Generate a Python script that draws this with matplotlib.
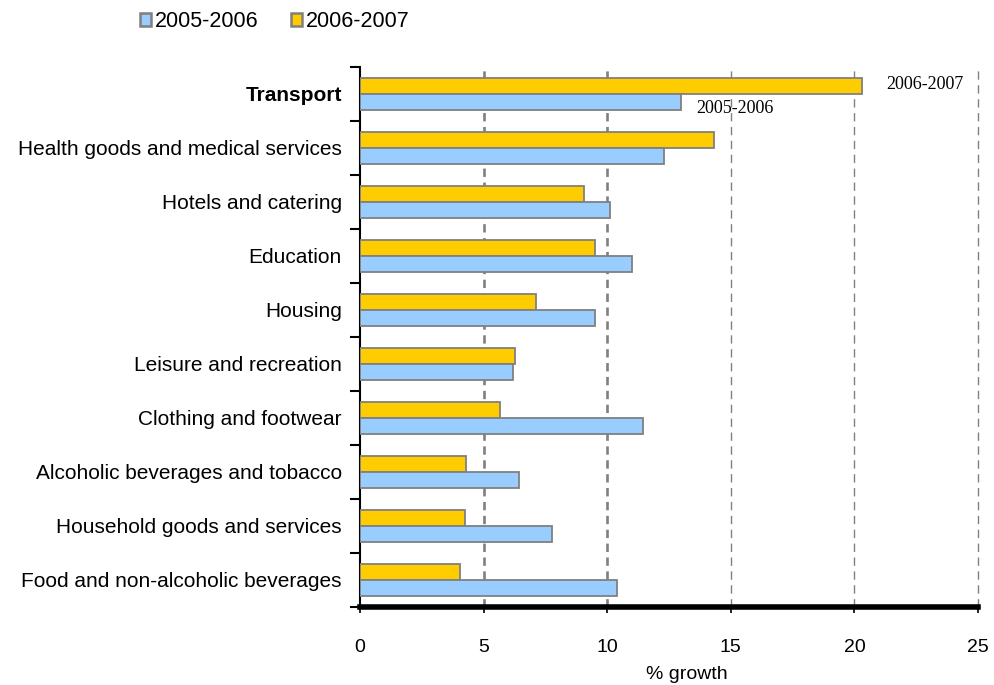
import matplotlib
matplotlib.use("Agg")
import matplotlib.pyplot as plt
from matplotlib.patches import Patch
import numpy as np

# categories, top to bottom
categories = [
    "Transport",
    "Health goods and medical services",
    "Hotels and catering",
    "Education",
    "Housing",
    "Leisure and recreation",
    "Clothing and footwear",
    "Alcoholic beverages and tobacco",
    "Household goods and services",
    "Food and non-alcoholic beverages",
]
growth_2005_2006 = [13.0, 12.3, 10.1, 11.0, 9.5, 6.2, 11.45, 6.45, 7.75, 10.4]
growth_2006_2007 = [20.3, 14.3, 9.05, 9.5, 7.1, 6.25, 5.65, 4.3, 4.25, 4.05]
series_labels = ["2005-2006", "2006-2007"]

blue = "#99CCFF"
yellow = "#FFCC00"
edge = "#808080"

plt.rcParams["font.family"] = ["Liberation Sans", "DejaVu Sans"]

fig = plt.figure(figsize=(9.94, 6.85), dpi=100)
ax = fig.add_axes([0.3622, 0.1139, 0.6218, 0.7883])

y = np.arange(len(categories))
h = 0.29
ax.barh(y - h / 2, growth_2006_2007, height=h, color=yellow,
        edgecolor=edge, linewidth=1.3, zorder=3)
ax.barh(y + h / 2, growth_2005_2006, height=h, color=blue,
        edgecolor=edge, linewidth=1.3, zorder=3)

ax.set_xlim(0, 25)
ax.set_ylim(len(categories) - 0.5, -0.5)

# category labels on centres, tick marks on group boundaries
ax.set_yticks(y)
ax.set_yticklabels(categories, fontsize=15)
ax.get_yticklabels()[0].set_fontweight("bold")
ax.tick_params(axis="y", which="major", length=0, pad=13)
ax.set_yticks(np.arange(-0.5, len(categories), 1.0), minor=True)
ax.tick_params(axis="y", which="minor", length=7, width=1.5, direction="out")

ax.set_xticks(np.arange(0, 26, 5))
ax.tick_params(axis="x", length=4, width=1.2, direction="out",
               pad=19, labelsize=14)
ax.set_xlabel("% growth", fontsize=14, labelpad=4)
ax.xaxis.set_label_coords(0.529, -0.11)

# dashed reference lines; the first two are drawn heavier
for v, lw in zip([5, 10, 15, 20, 25], [1.9, 1.9, 1.0, 1.0, 1.0]):
    ax.axvline(v, color=edge, linewidth=lw, linestyle=(0, (6 / lw, 4 / lw)),
               zorder=1, clip_on=False)

for side in ["top", "right"]:
    ax.spines[side].set_visible(False)
ax.spines["left"].set_linewidth(1.5)
ax.spines["bottom"].set_linewidth(4)

# end labels on the Transport bars
ax.text(21.27, -0.18, "2006-2007", family="Liberation Serif", fontsize=13,
        va="center", ha="left")
ax.text(13.6, 0.27, "2005-2006", family="Liberation Serif", fontsize=13,
        va="center", ha="left")

handles = [Patch(facecolor=blue, edgecolor=edge, linewidth=1.8),
           Patch(facecolor=yellow, edgecolor=edge, linewidth=1.8)]
fig.legend(handles, series_labels, loc="center left",
           bbox_to_anchor=(0.121, 0.969), ncol=2, frameon=False,
           fontsize=15.5, handlelength=0.55, handleheight=0.55,
           handletextpad=0.15, columnspacing=1.5)

fig.savefig("out.png", dpi=100)
